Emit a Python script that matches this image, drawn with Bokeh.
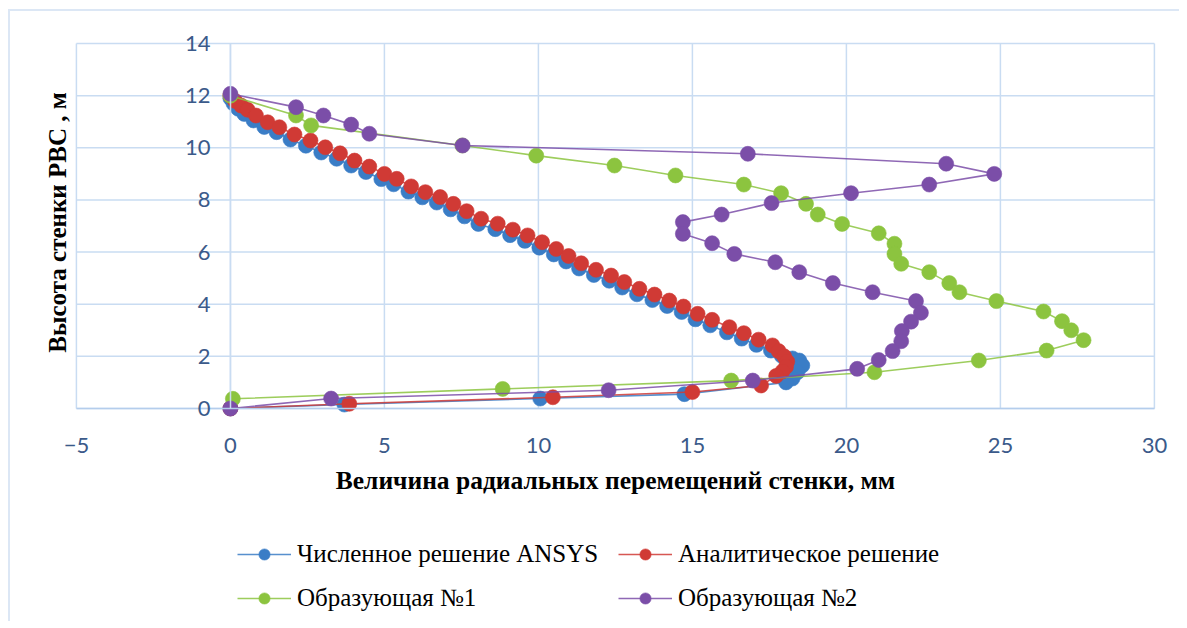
import math
from bokeh.plotting import figure
from bokeh.models import Legend, LegendItem, FixedTicker, Range1d, Label
from bokeh.embed import file_html
from bokeh.resources import INLINE

# ---- data ----
ansys_x = [0.0, 0.1, 0.25, 0.45, 0.75, 1.1, 1.5, 1.95, 2.45, 2.95, 3.45, 3.92, 4.4, 4.9, 5.3,
           5.78, 6.23, 6.7, 7.15, 7.6, 8.05, 8.6, 9.08, 9.56, 10.03, 10.5, 10.9, 11.32, 11.8, 12.3,
           12.72, 13.2, 13.7, 14.18, 14.65, 15.1, 15.58, 16.12, 16.6, 17.08, 17.55, 17.9, 18.25,
           18.47, 18.57, 18.41, 18.25, 18.04, 14.74, 10.06, 3.7, 0.0]
ansys_y = [11.9, 11.7, 11.5, 11.3, 11.05, 10.8, 10.6, 10.32, 10.08, 9.82, 9.58, 9.32, 9.07, 8.8, 8.6,
           8.32, 8.1, 7.9, 7.64, 7.37, 7.08, 6.88, 6.65, 6.43, 6.17, 5.91, 5.64, 5.37, 5.12, 4.9,
           4.64, 4.38, 4.16, 3.93, 3.7, 3.42, 3.19, 2.92, 2.68, 2.44, 2.22, 2.02, 1.92,
           1.84, 1.65, 1.39, 1.15, 1.0, 0.55, 0.38, 0.15, 0.0]

analytic_x = [0.0, 0.15, 0.35, 0.56, 0.83, 1.21, 1.59, 2.08, 2.6, 3.08, 3.56, 4.03, 4.51, 5.0, 5.4,
              5.87, 6.33, 6.81, 7.24, 7.67, 8.14, 8.68, 9.17, 9.65, 10.12, 10.58, 10.98, 11.39,
              11.87, 12.36, 12.79, 13.28, 13.77, 14.25, 14.71, 15.17, 15.64, 16.2, 16.67, 17.15,
              17.6, 17.8, 17.98, 18.08, 18.04, 17.92, 17.72, 17.23, 15.0, 10.47, 3.86, 0.0]
analytic_y = [12.0, 11.8, 11.62, 11.46, 11.24, 10.98, 10.79, 10.51, 10.28, 10.02, 9.79, 9.51, 9.28, 9.0, 8.81,
              8.52, 8.3, 8.11, 7.85, 7.57, 7.28, 7.09, 6.86, 6.64, 6.38, 6.12, 5.85, 5.57,
              5.32, 5.1, 4.85, 4.59, 4.37, 4.14, 3.91, 3.63, 3.4, 3.12, 2.89, 2.64,
              2.42, 2.2, 2.0, 1.8, 1.6, 1.42, 1.25, 0.88, 0.63, 0.43, 0.18, 0.0]

gen1_x = [0.0, 2.13, 2.62, 7.53, 9.93, 12.47, 14.45, 16.67, 17.88, 18.69, 19.07, 19.86, 21.05, 21.56,
          21.56, 21.78, 22.69, 23.34, 23.67, 24.87, 26.4, 27.0, 27.3, 27.7, 26.5, 24.3, 20.91, 16.26,
          8.84, 0.08]
gen1_y = [12.0, 11.24, 10.86, 10.09, 9.7, 9.32, 8.94, 8.59, 8.26, 7.85, 7.44, 7.08, 6.72, 6.32,
          5.93, 5.55, 5.23, 4.81, 4.46, 4.12, 3.72, 3.35, 3.0, 2.62, 2.22, 1.84, 1.39, 1.07,
          0.75, 0.37]

gen2_x = [0.0, 2.13, 3.02, 3.92, 4.51, 7.54, 16.8, 23.24, 24.8, 22.69, 20.15, 17.57, 15.95, 14.69,
          14.69, 15.64, 16.36, 17.69, 18.47, 19.56, 20.85, 22.26, 22.42, 22.1, 21.8, 21.78, 21.5,
          21.05, 20.35, 16.96, 12.28, 3.27, 0.0]
gen2_y = [12.07, 11.56, 11.24, 10.89, 10.54, 10.09, 9.77, 9.39, 9.0, 8.59, 8.26, 7.88, 7.44, 7.15,
          6.7, 6.34, 5.93, 5.61, 5.23, 4.81, 4.46, 4.12, 3.67, 3.33, 2.97, 2.58, 2.2,
          1.86, 1.52, 1.07, 0.7, 0.38, 0.0]

series_names = ["Численное решение ANSYS", "Аналитическое решение", "Образующая №1", "Образующая №2"]
series_colors = ["#3a7dc6", "#d03a35", "#8cc43f", "#7b4ea8"]
x_ticks = [-5, 0, 5, 10, 15, 20, 25, 30]
y_ticks = [0, 2, 4, 6, 8, 10, 12, 14]
x_title = "Величина радиальных перемещений стенки, мм"
y_title = "Высота стенки РВС , м"

GRID = "#c9dcf2"
TICK_COLOR = "#3b5a8a"

# The frame covers the whole canvas; the plot area (-5..30, 0..14) sits inside it,
# with the axes crossing at the origin and the legend drawn under the axis.
p = figure(width=1171, height=612, output_backend="svg", toolbar_location=None,
           x_range=Range1d(-7.14, 30.88), y_range=Range1d(-8.25, 15.23), min_border=0)
p.styles = {"border-left": "2px solid #dce7f5", "border-top": "2px solid #dce7f5",
            "margin-left": "8px", "margin-top": "9px"}
p.outline_line_color = None
p.background_fill_color = "white"
p.border_fill_color = "white"
p.grid.visible = False

# grid lines of the plot area
nx, ny = len(x_ticks), len(y_ticks)
p.segment(x0=x_ticks, y0=[y_ticks[0]] * nx, x1=x_ticks, y1=[y_ticks[-1]] * nx,
          line_color=GRID, line_width=1.5)
p.segment(x0=[x_ticks[0]] * ny, y0=y_ticks, x1=[x_ticks[-1]] * ny, y1=y_ticks,
          line_color=GRID, line_width=1.5)

# x axis at y = 0
xa = p.xaxis[0]
xa.fixed_location = 0
xa.bounds = (x_ticks[0], x_ticks[-1])
xa.ticker = FixedTicker(ticks=x_ticks)
xa.axis_line_color = "#b4cdec"
xa.axis_line_width = 1.5
xa.major_tick_line_color = None
xa.minor_tick_line_color = None
xa.major_label_standoff = 24
xa.major_label_text_font = "Lato"
xa.major_label_text_font_size = "22px"
xa.major_label_text_color = TICK_COLOR
xa.axis_label = x_title
xa.axis_label_text_font = "Liberation Serif"
xa.axis_label_text_font_style = "bold"
xa.axis_label_text_font_size = "25.5px"
xa.axis_label_text_color = "black"
xa.axis_label_standoff = 9

# y axis at x = 0
ya = p.yaxis[0]
ya.fixed_location = 0
ya.bounds = (y_ticks[0], y_ticks[-1])
ya.ticker = FixedTicker(ticks=y_ticks)
ya.axis_line_color = GRID
ya.axis_line_width = 1.5
ya.major_tick_line_color = None
ya.minor_tick_line_color = None
ya.major_tick_out = 0
ya.major_tick_in = 0
ya.major_label_standoff = 20
ya.major_label_text_font = "Lato"
ya.major_label_text_font_size = "22px"
ya.major_label_text_color = TICK_COLOR

p.add_layout(Label(x=47, y=401, x_units="screen", y_units="screen", text=y_title,
                   angle=math.pi / 2, text_align="center", text_baseline="middle",
                   text_font="Liberation Serif", text_font_style="bold",
                   text_font_size="25px", text_color="black"))

data = [(ansys_x, ansys_y), (analytic_x, analytic_y), (gen1_x, gen1_y), (gen2_x, gen2_y)]
items = []
for (xs, ys), name, col in zip(data, series_names, series_colors):
    lr = p.line(xs, ys, line_color=col, line_width=1.6, line_alpha=0.85)
    sr = p.scatter(xs, ys, size=15, fill_color=col, line_color=col, line_alpha=0.6)
    items.append(LegendItem(label=name, renderers=[lr, sr]))

legend = Legend(items=items, orientation="horizontal", ncols=2,
                location=(227, 11), padding=0, spacing=16, margin=0,
                glyph_width=54, glyph_height=28, label_standoff=6, label_width=305,
                label_text_font="Liberation Serif", label_text_font_size="25px",
                label_text_color="black", border_line_color=None, background_fill_alpha=0)
p.add_layout(legend, "center")

open("out.html", "w").write(file_html(p, INLINE))
